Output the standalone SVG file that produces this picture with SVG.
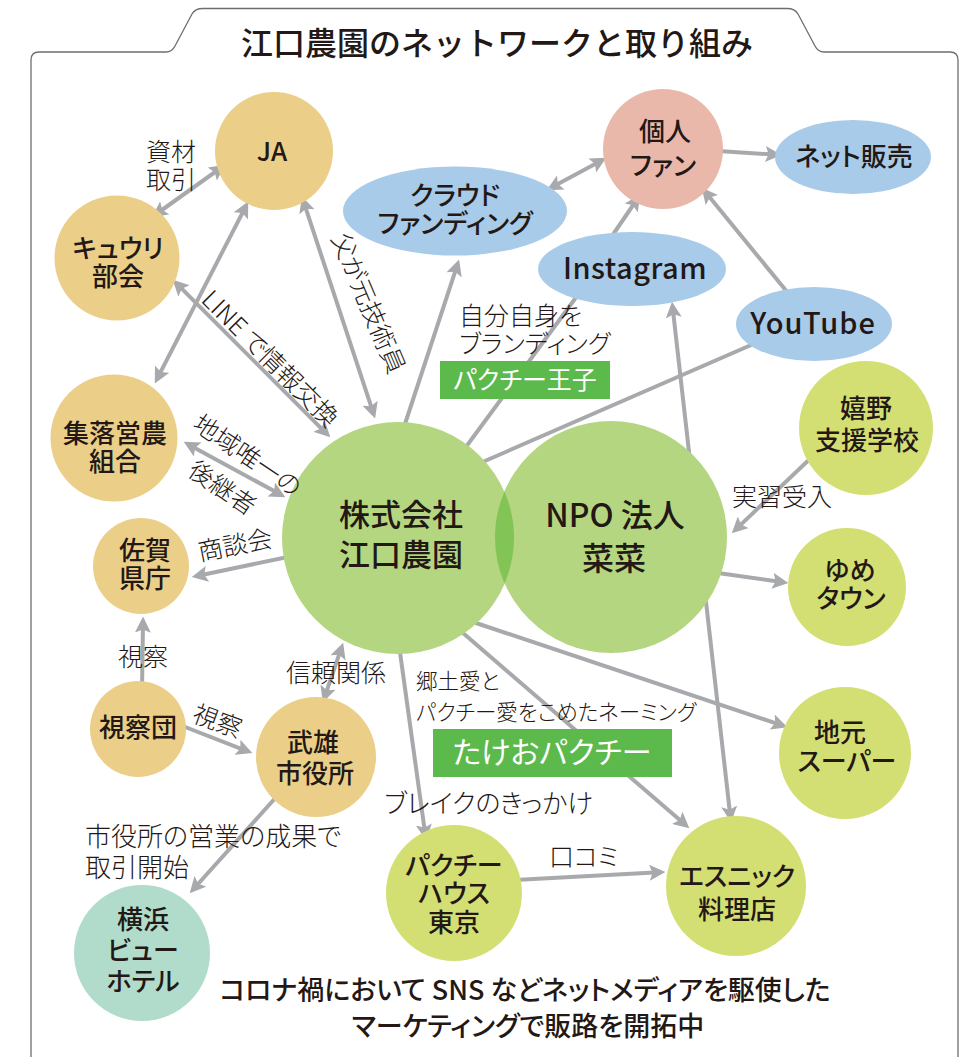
<svg xmlns="http://www.w3.org/2000/svg" width="977" height="1057" viewBox="0 0 977 1057">
<style>
text{font-family:'Noto Sans CJK JP','Noto Sans',sans-serif;font-feature-settings:"palt";fill:#231815}
.n{font-size:26px;font-weight:500;text-anchor:middle}
.l{font-size:25px;font-weight:300}
.w{fill:#ffffff;text-anchor:middle;font-weight:400}
.c{fill:none;stroke:#a7a9ac;stroke-width:4}
.a{marker-end:url(#ah)}
.b{marker-start:url(#ah);marker-end:url(#ah)}
.tan{fill:#ebcf88}
.blue{fill:#a8cbe9}
.yg{fill:#d4df73}
.big{fill:#b5d680}
</style>
<defs>
<marker id="ah" viewBox="0 0 10 10" refX="6" refY="5" markerWidth="4" markerHeight="4" orient="auto-start-reverse" markerUnits="strokeWidth"><path d="M0,0 L10,5 L0,10 L2,5 Z" fill="#a7a9ac"/></marker>
</defs>
<rect width="977" height="1057" fill="#ffffff"/>
<path d="M31,1062 L31,60 Q31,52 39,52 L166,52 Q172,52 175,46 L192,14 Q195,8.5 203,8.5 L787,8.5 Q795,8.5 798,14 L815,46 Q818,52 824,52 L950,52 Q958,52 958,60 L958,1062" fill="none" stroke="#6d6e71" stroke-width="1.3"/>
<text x="497" y="55" style="font-size:32px;font-weight:500;text-anchor:middle;font-feature-settings:normal">江口農園のネットワークと取り組み</text>
<g id="connectors">
<line class="c b" x1="220" y1="168.5" x2="157" y2="213.5"/>
<line class="c b" x1="245.3" y1="207.3" x2="157.7" y2="377.7"/>
<line class="c b" x1="177.2" y1="284.2" x2="325.8" y2="432.8"/>
<line class="c b" x1="303.9" y1="202.7" x2="373.1" y2="412.3"/>
<line class="c b" x1="189.3" y1="444.9" x2="279.7" y2="494.1"/>
<line class="c a" x1="290" y1="556.5" x2="198" y2="575.8"/>
<line class="c a" x1="142" y1="690" x2="143" y2="623"/>
<line class="c a" x1="180" y1="725" x2="246.4" y2="750.8"/>
<line class="c b" x1="324.9" y1="696.3" x2="341.1" y2="648.7"/>
<line class="c a" x1="278" y1="795" x2="194" y2="888.5"/>
<line class="c a" x1="399" y1="645" x2="425.2" y2="834"/>
<line class="c a" x1="463" y1="633" x2="684.5" y2="824.1"/>
<line class="c a" x1="473" y1="622" x2="781.3" y2="725.1"/>
<line class="c a" x1="515" y1="880" x2="659" y2="872.3"/>
<line class="c b" x1="672.7" y1="308" x2="730.3" y2="816"/>
<line class="c a" x1="403" y1="430" x2="457.1" y2="265.7"/>
<line class="c" x1="460" y1="455" x2="580" y2="292"/>
<line class="c" x1="758" y1="342" x2="478" y2="464"/>
<line class="c a" x1="788" y1="293" x2="705.8" y2="192.6"/>
<line class="c a" x1="612" y1="236" x2="636.6" y2="200"/>
<line class="c a" x1="718" y1="151" x2="775" y2="154.6"/>
<line class="c b" x1="600.7" y1="160.9" x2="552.3" y2="187.1"/>
<line class="c a" x1="814" y1="455" x2="736.4" y2="528.9"/>
<line class="c a" x1="718" y1="573" x2="782" y2="582.1"/>
</g>
<g id="n-ja"><circle class="tan" cx="274" cy="151" r="59"/><text class="n" x="272" y="161">JA</text></g>
<g id="n-kyuri"><circle class="tan" cx="117" cy="258" r="62.5"/><text class="n"><tspan x="118" y="258">キュウリ</tspan><tspan x="118" y="286">部会</tspan></text></g>
<g id="n-shuraku"><circle class="tan" cx="114" cy="438" r="63.5"/><text class="n"><tspan x="115" y="443">集落営農</tspan><tspan x="115" y="471">組合</tspan></text></g>
<g id="n-saga"><circle class="tan" cx="141" cy="566" r="48"/><text class="n"><tspan x="145" y="560">佐賀</tspan><tspan x="145" y="588">県庁</tspan></text></g>
<g id="n-shisatsudan"><circle class="tan" cx="138" cy="729" r="48"/><text class="n" x="138" y="737">視察団</text></g>
<g id="n-takeo"><circle class="tan" cx="316" cy="757" r="60"/><text class="n"><tspan x="313" y="752">武雄</tspan><tspan x="315" y="783">市役所</tspan></text></g>
<g id="n-yokohama"><circle cx="142" cy="953" r="68" fill="#b1dccb"/><text class="n"><tspan x="143" y="929">横浜</tspan><tspan x="143" y="960">ビュー</tspan><tspan x="143" y="991">ホテル</tspan></text></g>
<g id="n-eguchi"><circle class="big" cx="398" cy="538" r="116"/></g>
<g id="n-npo"><circle class="big" cx="611" cy="537" r="116"/><path d="M504.5,491.5 A116,116 0 0,1 504.5,583.5 A116,116 0 0,1 504.5,491.5 Z" fill="#82c455"/></g>
<g id="t-eguchi"><text class="n" style="font-size:31px"><tspan x="401" y="526">株式会社</tspan><tspan x="401" y="566">江口農園</tspan></text></g>
<g id="t-npo"><text class="n" style="font-size:32px"><tspan x="615" y="527">NPO 法人</tspan><tspan x="614" y="570">菜菜</tspan></text></g>
<g id="n-crowd"><ellipse class="blue" cx="455" cy="211" rx="112" ry="44.5"/><text class="n"><tspan x="455" y="205">クラウド</tspan><tspan x="455" y="233">ファンディング</tspan></text></g>
<g id="n-fan"><circle cx="663" cy="149" r="60" fill="#eab8ab"/><text class="n"><tspan x="665" y="141">個人</tspan><tspan x="663" y="175">ファン</tspan></text></g>
<g id="n-net"><ellipse class="blue" cx="853" cy="157" rx="78" ry="37"/><text class="n" x="854" y="166">ネット販売</text></g>
<g id="n-insta"><ellipse class="blue" cx="632" cy="269" rx="94" ry="37"/><text class="n" x="635" y="279" style="font-size:29px;letter-spacing:0.5px">Instagram</text></g>
<g id="n-youtube"><ellipse class="blue" cx="814" cy="324" rx="78" ry="37"/><text class="n" x="813" y="334" style="font-size:29px;letter-spacing:1px">YouTube</text></g>
<g id="n-ureshino"><circle class="yg" cx="866" cy="428" r="67"/><text class="n"><tspan x="866" y="418">嬉野</tspan><tspan x="867" y="450">支援学校</tspan></text></g>
<g id="n-yume"><circle class="yg" cx="847" cy="587" r="59"/><text class="n"><tspan x="850" y="580">ゆめ</tspan><tspan x="851" y="608">タウン</tspan></text></g>
<g id="n-jimoto"><circle class="yg" cx="845" cy="753" r="66"/><text class="n"><tspan x="840" y="742">地元</tspan><tspan x="847" y="771">スーパー</tspan></text></g>
<g id="n-pakuchi"><circle class="yg" cx="454" cy="893" r="68"/><text class="n"><tspan x="454" y="875">パクチー</tspan><tspan x="454" y="903">ハウス</tspan><tspan x="454" y="932">東京</tspan></text></g>
<g id="n-ethnic"><circle class="yg" cx="736" cy="886" r="70"/><text class="n"><tspan x="737" y="886">エスニック</tspan><tspan x="737" y="919">料理店</tspan></text></g>
<g id="labels">
<text class="l"><tspan x="146" y="161">資材</tspan><tspan x="146" y="189">取引</tspan></text>
<text class="l" transform="translate(200,301) rotate(45)">LINE で情報交換</text>
<text class="l" transform="translate(331,238) rotate(67)">父が元技術員</text>
<text class="l" transform="translate(191,428) rotate(34)"><tspan x="0" y="0">地域唯一の</tspan><tspan x="22" y="41">後継者</tspan></text>
<text class="l" transform="translate(200,561) rotate(-11)">商談会</text>
<text class="l" x="118" y="666">視察</text>
<text class="l" transform="translate(191,721) rotate(20)">視察</text>
<text class="l" x="286" y="682">信頼関係</text>
<text class="l" style="font-size:26px"><tspan x="85" y="846">市役所の営業の成果で</tspan><tspan x="85" y="877">取引開始</tspan></text>
<text class="l"><tspan x="459" y="325">自分自身を</tspan><tspan x="459" y="353">ブランディング</tspan></text>
<rect x="440" y="361" width="170" height="38" fill="#5cb94c"/>
<text class="l w" x="525" y="389">パクチー王子</text>
<text class="l" x="732" y="506">実習受入</text>
<text class="l" style="font-size:21.5px"><tspan x="416" y="689">郷土愛と</tspan><tspan x="416" y="720">パクチー愛をこめたネーミング</tspan></text>
<rect x="433" y="729" width="239" height="48" fill="#5cb94c"/>
<text class="l w" x="552" y="763" style="font-size:30px">たけおパクチー</text>
<text class="l" x="384" y="813" style="font-size:26px">ブレイクのきっかけ</text>
<text class="l" x="549" y="866">口コミ</text>
<text style="font-size:27px;font-weight:500;text-anchor:middle"><tspan x="525" y="1000">コロナ禍において SNS などネットメディアを駆使した</tspan><tspan x="528" y="1036">マーケティングで販路を開拓中</tspan></text>
</g>
</svg>
